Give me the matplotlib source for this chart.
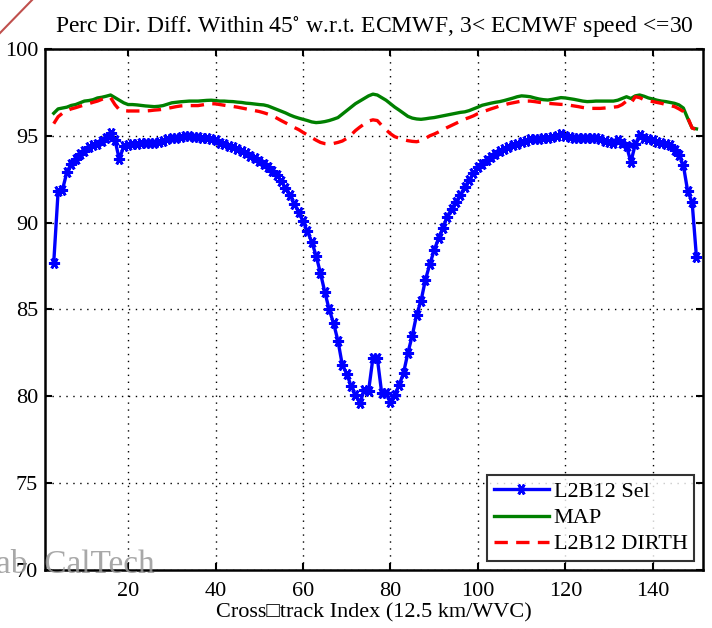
import numpy as np
import matplotlib
matplotlib.use('Agg')
import matplotlib.pyplot as plt
from matplotlib.lines import Line2D

plt.rcParams['font.family'] = ['Liberation Serif', 'DejaVu Serif']
plt.rcParams['mathtext.fontset'] = 'stix'

# cross-track index of each wind vector cell
wvc = list(range(3, 151))

# L2B12 Sel (blue, with markers)
sel = [87.7, 91.8, 91.9, 92.9, 93.4, 93.65, 93.95, 94.15, 94.35, 94.45,
       94.5, 94.7, 94.9, 95.15, 94.75, 93.65, 94.4, 94.45, 94.5, 94.55,
       94.6, 94.6, 94.6, 94.6, 94.65, 94.7, 94.8, 94.85, 94.9,
       94.95, 95.0, 95.0, 94.95, 94.95, 94.9, 94.88, 94.8, 94.75, 94.6,
       94.5, 94.4, 94.35, 94.25, 94.1, 94.0, 93.85, 93.7, 93.55, 93.4,
       93.2, 93.0, 92.75, 92.4, 92.0, 91.6, 91.1, 90.6, 90.1, 89.5,
       88.9, 88.1, 87.1, 86.0, 85.0, 84.2, 83.2, 81.8, 81.3, 80.6,
       80.1, 79.6, 80.35, 80.3, 82.2, 82.2, 80.2, 80.2, 79.7, 80.1,
       80.65, 81.35, 82.5, 83.5, 84.7, 85.5, 86.7, 87.6, 88.4, 89.1,
       89.7, 90.35, 90.8, 91.2, 91.6, 92.05, 92.45, 92.85, 93.2, 93.4,
       93.6, 93.8, 93.95, 94.1, 94.25, 94.35, 94.45, 94.55, 94.65, 94.7,
       94.8, 94.8, 94.8, 94.85, 94.9, 94.95, 95.0, 95.1, 95.0, 94.95,
       94.9, 94.9, 94.88, 94.86, 94.86, 94.86, 94.8, 94.7, 94.65, 94.6,
       94.75, 94.6, 94.4, 93.5, 94.5, 95.05, 94.9, 94.8, 94.75, 94.65,
       94.6, 94.5, 94.45, 94.2, 93.9, 93.3, 91.8, 91.2, 88.0]

# MAP (green)
map_ = [96.3, 96.55, 96.6, 96.65, 96.75, 96.8, 96.9, 97.0, 97.03, 97.08,
        97.18, 97.22, 97.28, 97.35, 97.2, 97.05, 96.9, 96.8, 96.8, 96.78,
        96.75, 96.72, 96.7, 96.68, 96.7, 96.74, 96.82, 96.9, 96.93, 96.96,
        96.98, 97.0, 97.0, 97.0, 97.02, 97.04, 97.05, 97.03, 97.0, 97.0,
        96.98, 96.97, 96.94, 96.92, 96.88, 96.86, 96.83, 96.8, 96.78, 96.72,
        96.62, 96.52, 96.42, 96.32, 96.2, 96.1, 96.02, 95.95, 95.88, 95.8,
        95.76, 95.78, 95.82, 95.88, 95.96, 96.05, 96.25, 96.45, 96.65, 96.85,
        97.0, 97.15, 97.3, 97.4, 97.35, 97.2, 97.05, 96.85, 96.65, 96.48,
        96.3, 96.12, 96.02, 95.97, 95.95, 95.98, 96.02, 96.05, 96.1, 96.15,
        96.2, 96.25, 96.3, 96.35, 96.38, 96.45, 96.55, 96.65, 96.76, 96.82,
        96.88, 96.93, 96.97, 97.03, 97.1, 97.17, 97.25, 97.3, 97.28, 97.25,
        97.18, 97.12, 97.08, 97.06, 97.1, 97.15, 97.2, 97.18, 97.14, 97.1,
        97.05, 97.0, 96.97, 96.98, 97.0, 97.0, 97.0, 97.0, 97.0, 97.05,
        97.15, 97.25, 97.15, 97.3, 97.35, 97.28, 97.18, 97.12, 97.05, 97.0,
        96.97, 96.92, 96.87, 96.78, 96.6, 96.0, 95.45, 95.4]

# L2B12 DIRTH (red dashed)
dirth = [95.7, 96.1, 96.3, 96.45, 96.55, 96.62, 96.7, 96.78, 96.85, 96.93,
         97.0, 97.1, 97.2, 97.2, 96.8, 96.5, 96.45, 96.43, 96.43, 96.43,
         96.43, 96.43, 96.45, 96.48, 96.5, 96.53, 96.58, 96.63, 96.68, 96.72,
         96.74, 96.74, 96.74, 96.74, 96.78, 96.82, 96.85, 96.84, 96.8, 96.76,
         96.72, 96.69, 96.65, 96.6, 96.55, 96.5, 96.45, 96.4, 96.33, 96.25,
         96.15, 96.02, 95.88, 95.75, 95.62, 95.48, 95.36, 95.2, 95.05, 94.9,
         94.75, 94.62, 94.55, 94.53, 94.56, 94.62, 94.7, 94.85, 95.05, 95.3,
         95.5, 95.68, 95.85, 95.92, 95.88, 95.6, 95.35, 95.12, 94.95, 94.86,
         94.78, 94.72, 94.68, 94.66, 94.72, 94.85, 95.0, 95.1, 95.22, 95.35,
         95.48, 95.6, 95.72, 95.84, 95.96, 96.05, 96.15, 96.28, 96.38, 96.46,
         96.55, 96.63, 96.72, 96.78, 96.85, 96.9, 96.95, 97.0, 97.0, 97.0,
         96.97, 96.93, 96.9, 96.87, 96.85, 96.83, 96.81, 96.8, 96.76, 96.72,
         96.68, 96.63, 96.6, 96.58, 96.58, 96.58, 96.6, 96.62, 96.65, 96.68,
         96.8, 97.0, 96.87, 97.25, 97.2, 97.08, 97.02, 96.97, 96.92, 96.87,
         96.8, 96.74, 96.68, 96.55, 96.4, 96.05, 95.45, 95.35]

xticks = [20, 40, 60, 80, 100, 120, 140]
yticks = [70, 75, 80, 85, 90, 95, 100]

fig = plt.figure(figsize=(7.12, 6.28), dpi=100)
ax = fig.add_axes([0.0632, 0.0924, 0.9242, 0.8296])

ax.plot(wvc, sel, '-', color='#0000ff', lw=2.4, marker=(6, 2, 90), ms=8,
        mew=2, label='L2B12 Sel')
ax.plot(wvc, map_, '-', color='#008000', lw=2.4, label='MAP')
ax.plot(wvc, dirth, '--', color='#ff0000', lw=2.4, dashes=(4, 2.5),
        label='L2B12 DIRTH')

ax.set_xlim(1, 151.5)
ax.set_ylim(70, 100)
ax.set_xticks(xticks)
ax.set_yticks(yticks)
ax.grid(True, color='black', linestyle=(0, (1, 4)), lw=1)
ax.tick_params(direction='in', length=5, width=1.5, labelsize=16,
               top=True, right=True)
ax.tick_params(axis='x', pad=9)
ax.tick_params(axis='y', pad=5)
for s in ax.spines.values():
    s.set_linewidth(1.8)

ax.set_title('Perc Dir. Diff. Within 45$^{\\circ}$ w.r.t. ECMWF, 3< ECMWF speed <=30',
             fontsize=17, pad=12)
ax.set_xlabel('Cross\u25a1track Index (12.5 km/WVC)', fontsize=16, labelpad=1)

leg = ax.legend(loc='lower right', fontsize=16, frameon=True, fancybox=False,
                edgecolor='black', handlelength=2.5, handletextpad=0.2,
                borderpad=0.3, labelspacing=0.25, borderaxespad=0.4)
leg.get_frame().set_linewidth(1.5)

# watermark and stray line in the screenshot
fig.text(-0.006, 0.087, 'ab  CalTech', fontsize=24, color='#999999', alpha=0.85)
fig.add_artist(Line2D([0.0, 0.045], [1 - 33 / 628, 1.0], color='#c0504d', lw=1.5))

fig.savefig('out.png', dpi=100)
